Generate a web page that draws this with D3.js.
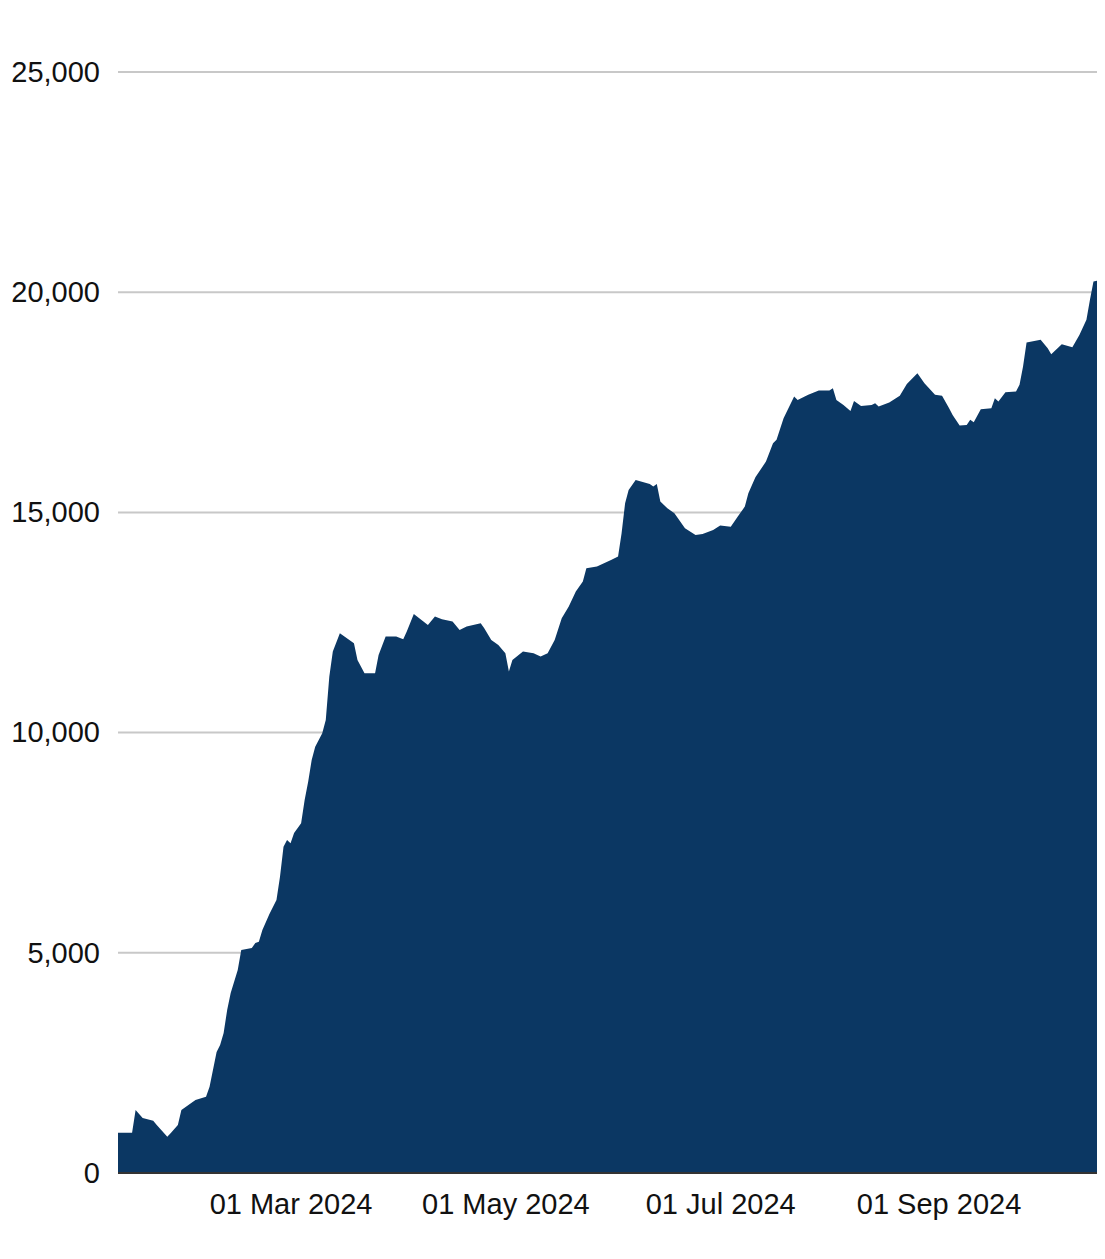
<!DOCTYPE html>
<html>
<head>
<meta charset="utf-8">
<script src="https://cdn.jsdelivr.net/npm/d3@7"></script>
<style>
  html, body { margin: 0; padding: 0; background: #fff; }
  svg { display: block; }
  text { font-family: "Liberation Sans", Arial, Helvetica, sans-serif; fill: #111; }
</style>
</head>
<body>
<svg id="chart" width="1105" height="1259"></svg>
<script>
const dates = [
  "2024-01-12","2024-01-16","2024-01-17","2024-01-19","2024-01-22","2024-01-23","2024-01-26","2024-01-27",
  "2024-01-29","2024-01-30","2024-02-01","2024-02-03","2024-02-06","2024-02-07","2024-02-09","2024-02-10",
  "2024-02-11","2024-02-12","2024-02-13","2024-02-15","2024-02-16","2024-02-19","2024-02-20","2024-02-21",
  "2024-02-22","2024-02-24","2024-02-26","2024-02-27","2024-02-28","2024-02-29","2024-03-01","2024-03-02",
  "2024-03-04","2024-03-05","2024-03-06","2024-03-07","2024-03-08","2024-03-10","2024-03-11","2024-03-12",
  "2024-03-13","2024-03-15","2024-03-19","2024-03-20","2024-03-22","2024-03-25","2024-03-26","2024-03-28",
  "2024-03-31","2024-04-02","2024-04-03","2024-04-05","2024-04-09","2024-04-11","2024-04-13","2024-04-16",
  "2024-04-18","2024-04-20","2024-04-24","2024-04-25","2024-04-27","2024-04-29","2024-05-01","2024-05-02",
  "2024-05-03","2024-05-06","2024-05-09","2024-05-11","2024-05-13","2024-05-15","2024-05-17","2024-05-19",
  "2024-05-21","2024-05-23","2024-05-24","2024-05-27","2024-05-31","2024-06-02","2024-06-03","2024-06-04",
  "2024-06-05","2024-06-07","2024-06-11","2024-06-12","2024-06-13","2024-06-14","2024-06-16","2024-06-18",
  "2024-06-19","2024-06-21","2024-06-24","2024-06-26","2024-06-29","2024-07-01","2024-07-04","2024-07-06",
  "2024-07-08","2024-07-09","2024-07-11","2024-07-14","2024-07-16","2024-07-17","2024-07-19","2024-07-22",
  "2024-07-23","2024-07-26","2024-07-29","2024-08-01","2024-08-02","2024-08-03","2024-08-05","2024-08-07",
  "2024-08-08","2024-08-10","2024-08-13","2024-08-14","2024-08-15","2024-08-18","2024-08-21","2024-08-23",
  "2024-08-26","2024-08-28","2024-08-31","2024-09-02","2024-09-04","2024-09-05","2024-09-07","2024-09-09",
  "2024-09-10","2024-09-11","2024-09-13","2024-09-16","2024-09-17","2024-09-18","2024-09-20","2024-09-23",
  "2024-09-24","2024-09-25","2024-09-26","2024-09-30","2024-10-02","2024-10-03","2024-10-06","2024-10-09",
  "2024-10-11","2024-10-13","2024-10-14","2024-10-15","2024-10-16"
];
const values = [
  915, 915, 1431, 1250, 1188, 1090, 825, 908,
  1090, 1431, 1544, 1658, 1733, 1960, 2750, 2907,
  3180, 3702, 4088, 4610, 5064, 5110, 5223, 5253,
  5519, 5880, 6200, 6729, 7410, 7562, 7487, 7720,
  7941, 8470, 8886, 9379, 9681, 9985, 10288, 11271,
  11839, 12256, 12029, 11650, 11348, 11348, 11764, 12180,
  12180, 12120, 12293, 12695, 12445, 12634, 12574, 12520,
  12332, 12407, 12483, 12370, 12105, 11990, 11803, 11385,
  11650, 11839, 11803, 11726, 11803, 12105, 12597, 12861,
  13202, 13429, 13732, 13769, 13921, 13997, 14527, 15209,
  15511, 15738, 15647, 15586, 15647, 15245, 15094, 14980,
  14867, 14640, 14489, 14512, 14603, 14700, 14677, 14905,
  15132, 15436, 15800, 16154, 16571, 16647, 17139, 17630,
  17555, 17669, 17767, 17767, 17820, 17555, 17441, 17305,
  17532, 17418, 17441, 17480, 17403, 17494, 17646, 17918,
  18161, 17934, 17669, 17646, 17366, 17214, 16971, 16987,
  17101, 17048, 17343, 17366, 17593, 17516, 17729, 17744,
  17896, 18312, 18857, 18918, 18729, 18593, 18820, 18752,
  19031, 19372, 19826, 20242, 20260
];
const yTicks = [0, 5000, 10000, 15000, 20000, 25000];
const xTicks = ["2024-03-01", "2024-05-01", "2024-07-01", "2024-09-01"];
const xDomain = ["2024-01-12", "2024-10-16"];

const parse = d3.utcParse("%Y-%m-%d");
const data = dates.map((d, i) => ({ date: parse(d), value: values[i] }));

const svg = d3.select("#chart");
const mLeft = 118, mRight = 1097, mTop = 72, mBottom = 1173;

const x = d3.scaleUtc().domain(xDomain.map(parse)).range([mLeft, mRight]);
const y = d3.scaleLinear().domain([0, 25000]).range([mBottom, mTop]);

// y labels
const yAxis = d3.axisLeft(y).tickValues(yTicks).tickSize(0).tickPadding(18)
  .tickFormat(d3.format(","));
const gy = svg.append("g").attr("transform", `translate(${mLeft},0)`).call(yAxis);
gy.select(".domain").remove();
gy.selectAll("text").style("font-size", "29px").attr("fill", "#111")
  .attr("font-family", "Liberation Sans, Arial, sans-serif");

// gridlines
svg.append("g").selectAll("line").data(yTicks.filter(t => t > 0)).join("line")
  .attr("x1", mLeft).attr("x2", mRight)
  .attr("y1", d => y(d)).attr("y2", d => y(d))
  .attr("stroke", "#c8c8c8").attr("stroke-width", 2);

// area
const area = d3.area().x(d => x(d.date)).y0(y(0)).y1(d => y(d.value)).curve(d3.curveLinear);
svg.append("path").datum(data).attr("d", area).attr("fill", "#0b3763");

// x axis
const xAxis = d3.axisBottom(x).tickValues(xTicks.map(parse)).tickSize(0).tickPadding(20)
  .tickFormat(d3.utcFormat("%d %b %Y"));
const gx = svg.append("g").attr("transform", `translate(0,${mBottom})`).call(xAxis);
gx.select(".domain").attr("stroke", "#333").attr("stroke-width", 2)
  .attr("d", `M${mLeft},0H${mRight}`);
gx.selectAll("text").style("font-size", "29px").attr("fill", "#111")
  .attr("font-family", "Liberation Sans, Arial, sans-serif");
</script>
</body>
</html>
